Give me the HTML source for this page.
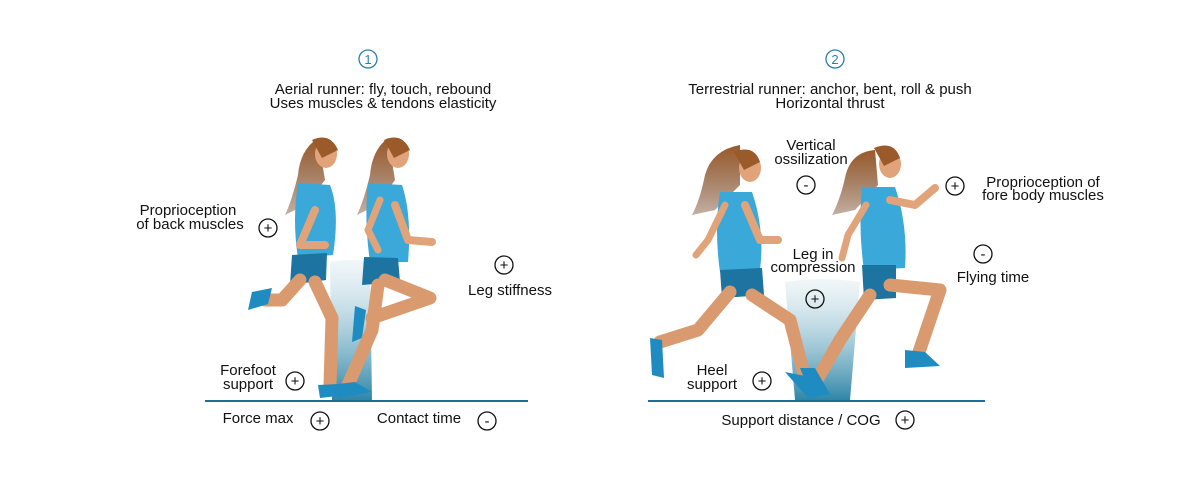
<!DOCTYPE html>
<html><head><meta charset="utf-8"><style>
html,body{margin:0;padding:0;background:#fff;width:1200px;height:480px;overflow:hidden}
svg text{font-family:"Liberation Sans",sans-serif;fill:#111;font-size:15px}
</style></head><body>
<svg width="1200" height="480" viewBox="0 0 1200 480" xmlns="http://www.w3.org/2000/svg">
<defs>
<linearGradient id="g" x1="0" y1="0" x2="0" y2="1">
<stop offset="0" stop-color="#cfe3ea" stop-opacity="0.3"/>
<stop offset="1" stop-color="#2f86a8"/>
</linearGradient>
<linearGradient id="hair" x1="0" y1="0" x2="0" y2="1">
<stop offset="0" stop-color="#9a5a2a"/><stop offset="1" stop-color="#6a3a1a" stop-opacity="0.4"/>
</linearGradient>
</defs>
<!-- numbers -->
<circle cx="368" cy="59" r="9" fill="none" stroke="#2a7fb0" stroke-width="1.3"/>
<text x="368" y="64" text-anchor="middle" style="fill:#2a7fb0;font-size:13px">1</text>
<circle cx="835" cy="59" r="9" fill="none" stroke="#2a7fb0" stroke-width="1.3"/>
<text x="835" y="64" text-anchor="middle" style="fill:#2a7fb0;font-size:13px">2</text>
<text x="383" y="94" text-anchor="middle">Aerial runner: fly, touch, rebound</text>
<text x="383" y="108" text-anchor="middle">Uses muscles &amp; tendons elasticity</text>
<text x="830" y="94" text-anchor="middle">Terrestrial runner: anchor, bent, roll &amp; push</text>
<text x="830" y="108" text-anchor="middle">Horizontal thrust</text>

<!-- gradients -->
<path d="M330 262 Q350 258 370 262 L372 400 L332 400 Z" fill="url(#g)"/>
<path d="M785 282 Q820 276 860 282 L850 400 L795 400 Z" fill="url(#g)"/>

<!-- ground -->
<line x1="205" y1="401" x2="528" y2="401" stroke="#1d6f93" stroke-width="2"/>
<line x1="648" y1="401" x2="985" y2="401" stroke="#1d6f93" stroke-width="2"/>

<g stroke-linecap="round" stroke-linejoin="round">
<!-- Runner 1 -->
<path d="M318 138 Q300 150 298 175 Q292 200 285 215 L305 205 L325 180 Z" fill="url(#hair)"/>
<ellipse cx="326" cy="154" rx="11" ry="14" fill="#e1a47a"/>
<path d="M312 140 Q330 132 338 150 L322 158 Z" fill="#9a5a2a"/>
<path d="M298 183 L330 185 Q340 210 333 255 L298 258 Q292 220 298 183Z" fill="#3aa8d8"/>
<path d="M315 210 L300 245 L325 245" stroke="#e1a47a" stroke-width="8" fill="none"/>
<path d="M292 255 L327 253 L326 280 L290 285 Z" fill="#1e74a0"/>
<path d="M300 280 L282 300 L265 300" stroke="#d99a6f" stroke-width="13" fill="none"/>
<path d="M252 292 L272 288 L268 304 L248 310Z" fill="#1e8cc0"/>
<path d="M315 282 L332 318 L330 385" stroke="#d99a6f" stroke-width="13" fill="none"/>
<path d="M318 385 L338 384 L355 394 L320 398Z" fill="#1e8cc0"/>
<!-- Runner 2 -->
<path d="M388 138 Q372 150 370 175 Q364 200 357 215 L377 205 L395 180 Z" fill="url(#hair)"/>
<ellipse cx="398" cy="154" rx="11" ry="14" fill="#e1a47a"/>
<path d="M384 140 Q402 132 410 150 L394 158 Z" fill="#9a5a2a"/>
<path d="M368 183 L402 185 Q412 215 408 262 L370 262 Q364 220 368 183Z" fill="#3aa8d8"/>
<path d="M395 205 L408 240 L432 242" stroke="#e1a47a" stroke-width="8" fill="none"/>
<path d="M380 200 L368 230 L378 250" stroke="#e1a47a" stroke-width="7" fill="none"/>
<path d="M364 257 L398 258 L400 282 L362 285 Z" fill="#1e74a0"/>
<path d="M385 280 L430 298 L372 318" stroke="#d99a6f" stroke-width="13" fill="none"/>
<path d="M355 306 L366 310 L362 338 L352 342Z" fill="#1e8cc0"/>
<path d="M378 285 L372 330 L348 385" stroke="#d99a6f" stroke-width="13" fill="none"/>
<path d="M338 384 L355 382 L372 392 L338 398Z" fill="#1e8cc0"/>

<!-- Runner 3 -->
<path d="M740 145 Q712 150 705 175 Q700 200 692 215 L715 210 L740 185 Z" fill="url(#hair)"/>
<ellipse cx="750" cy="168" rx="11" ry="14" fill="#e1a47a"/>
<path d="M734 152 Q754 144 760 162 L744 170 Z" fill="#9a5a2a"/>
<path d="M720 192 L752 192 Q765 230 760 270 L720 272 Q714 230 720 192Z" fill="#3aa8d8"/>
<path d="M745 205 L760 240 L778 240" stroke="#e1a47a" stroke-width="8" fill="none"/>
<path d="M725 205 L708 240 L696 255" stroke="#e1a47a" stroke-width="7" fill="none"/>
<path d="M720 270 L762 268 L764 295 L722 298 Z" fill="#1e74a0"/>
<path d="M730 292 L698 330 L660 342" stroke="#d99a6f" stroke-width="13" fill="none"/>
<path d="M650 338 L662 340 L664 378 L652 375Z" fill="#1e8cc0"/>
<path d="M752 295 L790 320 L806 382" stroke="#d99a6f" stroke-width="13" fill="none"/>
<path d="M785 372 L805 376 L826 394 L808 398Z" fill="#1e8cc0"/>
<!-- Runner 4 -->
<path d="M875 150 Q850 152 845 178 Q840 200 832 215 L855 210 L878 185 Z" fill="url(#hair)"/>
<ellipse cx="890" cy="164" rx="11" ry="14" fill="#e1a47a"/>
<path d="M874 148 Q894 140 900 158 L884 166 Z" fill="#9a5a2a"/>
<path d="M862 187 L895 187 Q908 225 905 268 L864 270 Q858 228 862 187Z" fill="#3aa8d8"/>
<path d="M890 200 L915 205 L935 188" stroke="#e1a47a" stroke-width="8" fill="none"/>
<path d="M866 205 L848 235 L842 258" stroke="#e1a47a" stroke-width="7" fill="none"/>
<path d="M862 265 L896 265 L896 298 L864 300 Z" fill="#1e74a0"/>
<path d="M890 285 L940 290 L918 355" stroke="#d99a6f" stroke-width="13" fill="none"/>
<path d="M905 350 L925 352 L940 366 L905 368Z" fill="#1e8cc0"/>
<path d="M870 295 L840 340 L818 378" stroke="#d99a6f" stroke-width="13" fill="none"/>
<path d="M800 368 L815 368 L830 394 L812 398Z" fill="#1e8cc0"/>
</g>

<!-- labels -->
<g fill="none" stroke="#111" stroke-width="1.3">
<circle cx="268" cy="228" r="9"/><circle cx="504" cy="265" r="9"/><circle cx="295" cy="381" r="9"/>
<circle cx="320" cy="421" r="9"/><circle cx="487" cy="421" r="9"/>
<circle cx="806" cy="185" r="9"/><circle cx="955" cy="186" r="9"/><circle cx="983" cy="254" r="9"/>
<circle cx="815" cy="299" r="9"/><circle cx="762" cy="381" r="9"/><circle cx="905" cy="420" r="9"/>
</g>
<g style="font-size:15px">
<text x="268" y="233" text-anchor="middle">+</text><text x="504" y="270" text-anchor="middle">+</text>
<text x="295" y="386" text-anchor="middle">+</text><text x="320" y="426" text-anchor="middle">+</text>
<text x="487" y="426" text-anchor="middle">-</text>
<text x="806" y="190" text-anchor="middle">-</text><text x="955" y="191" text-anchor="middle">+</text>
<text x="983" y="259" text-anchor="middle">-</text><text x="815" y="304" text-anchor="middle">+</text>
<text x="762" y="386" text-anchor="middle">+</text><text x="905" y="425" text-anchor="middle">+</text>
</g>
<text x="188" y="215" text-anchor="middle">Proprioception</text>
<text x="190" y="229" text-anchor="middle">of back muscles</text>
<text x="510" y="295" text-anchor="middle">Leg stiffness</text>
<text x="248" y="375" text-anchor="middle">Forefoot</text>
<text x="248" y="389" text-anchor="middle">support</text>
<text x="258" y="423" text-anchor="middle">Force max</text>
<text x="419" y="423" text-anchor="middle">Contact time</text>
<text x="811" y="150" text-anchor="middle">Vertical</text>
<text x="811" y="164" text-anchor="middle">ossilization</text>
<text x="1043" y="187" text-anchor="middle">Proprioception of</text>
<text x="1043" y="200" text-anchor="middle">fore body muscles</text>
<text x="993" y="282" text-anchor="middle">Flying time</text>
<text x="813" y="259" text-anchor="middle">Leg in</text>
<text x="813" y="272" text-anchor="middle">compression</text>
<text x="712" y="375" text-anchor="middle">Heel</text>
<text x="712" y="389" text-anchor="middle">support</text>
<text x="801" y="425" text-anchor="middle">Support distance / COG</text>
</svg>
</body></html>
